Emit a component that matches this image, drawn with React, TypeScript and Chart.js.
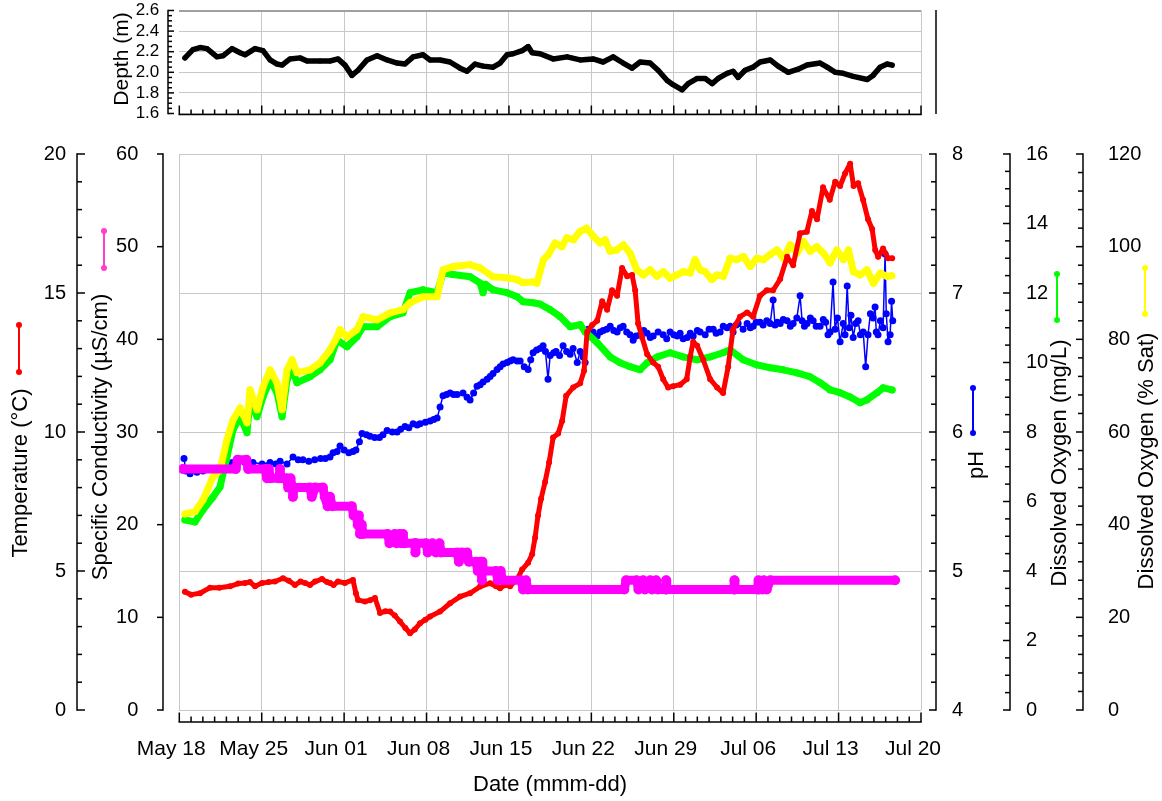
import React, { useEffect, useRef } from "react";
import { Chart, registerables } from "chart.js";

Chart.register(...registerables);

// ---------- DATA ----------
const xTickLabels = ["May 18", "May 25", "Jun 01", "Jun 08", "Jun 15", "Jun 22", "Jun 29", "Jul 06", "Jul 13", "Jul 20"];

// days since May 18 00:00
const depthDays = [0.48, 1.16, 1.76, 2.35, 3.2, 3.71, 4.48, 5.16, 5.58, 6.43, 7.11, 7.71, 8.3, 8.73, 9.4, 10.25, 10.85, 11.95, 12.8, 13.48, 14.07, 14.66, 15.18, 15.95, 16.8, 17.65, 18.5, 19.17, 19.86, 20.7, 21.3, 22.15, 22.99, 23.85, 24.44, 25.12, 25.8, 26.65, 27.25, 27.84, 28.35, 29.12, 29.63, 29.97, 30.64, 31.75, 32.94, 34.05, 35.15, 36.0, 36.85, 37.7, 38.46, 39.14, 39.99, 40.67, 41.44, 41.94, 42.71, 43.22, 43.99, 44.67, 45.26, 45.77, 46.53, 47.04, 47.47, 48.06, 48.74, 49.33, 50.19, 50.86, 51.72, 52.56, 53.32, 54.43, 55.03, 55.71, 56.39, 57.24, 58.43, 58.93, 59.52, 60.12, 60.55];
const depthVals = [2.14, 2.22, 2.24, 2.23, 2.15, 2.16, 2.23, 2.19, 2.17, 2.23, 2.21, 2.12, 2.08, 2.07, 2.13, 2.14, 2.11, 2.11, 2.11, 2.13, 2.07, 1.97, 2.02, 2.12, 2.16, 2.12, 2.09, 2.08, 2.15, 2.17, 2.12, 2.12, 2.1, 2.04, 2.01, 2.08, 2.06, 2.05, 2.09, 2.17, 2.18, 2.21, 2.25, 2.19, 2.18, 2.13, 2.15, 2.12, 2.13, 2.1, 2.15, 2.09, 2.04, 2.1, 2.09, 2.02, 1.92, 1.88, 1.83, 1.89, 1.94, 1.94, 1.89, 1.94, 1.99, 2.01, 1.95, 2.02, 2.05, 2.1, 2.12, 2.06, 2.0, 2.03, 2.07, 2.09, 2.05, 2.0, 1.99, 1.96, 1.93, 1.97, 2.05, 2.08, 2.07];

const tempDays = [0.48, 1.0, 1.76, 2.61, 3.4, 4.31, 5.0, 5.58, 6.0, 6.43, 7.03, 7.6, 8.13, 8.81, 9.3, 9.82, 10.3, 10.68, 11.1, 11.53, 12.12, 12.55, 12.8, 13.1, 13.48, 14.07, 14.75, 15.0, 15.18, 15.77, 16.2, 16.62, 17.05, 17.5, 17.9, 18.3, 18.75, 19.2, 19.6, 20.0, 20.45, 20.9, 21.3, 22.15, 23.0, 23.85, 24.7, 25.55, 26.4, 26.9, 27.25, 27.7, 28.1, 28.69, 29.12, 29.63, 29.97, 30.22, 30.47, 30.73, 31.07, 31.41, 31.75, 32.18, 32.52, 32.86, 33.45, 34.05, 34.38, 34.64, 35.07, 35.49, 35.92, 36.34, 36.76, 37.19, 37.61, 38.04, 38.46, 38.72, 38.97, 39.31, 39.74, 40.25, 40.67, 41.1, 41.52, 41.94, 42.54, 43.1, 43.39, 43.65, 43.99, 44.5, 45.09, 45.68, 46.19, 46.62, 47.04, 47.63, 48.23, 48.74, 49.32, 49.9, 50.44, 51.04, 51.63, 52.14, 52.73, 53.3, 53.74, 54.17, 54.68, 55.25, 55.71, 56.13, 56.55, 56.98, 57.27, 57.66, 58.08, 58.5, 58.85, 59.11, 59.36, 59.78, 60.2, 60.55];
const tempVals = [4.25, 4.15, 4.2, 4.4, 4.4, 4.45, 4.55, 4.57, 4.6, 4.45, 4.57, 4.6, 4.62, 4.74, 4.65, 4.5, 4.62, 4.57, 4.5, 4.62, 4.71, 4.6, 4.57, 4.5, 4.62, 4.57, 4.68, 4.2, 3.96, 3.9, 3.95, 4.03, 3.49, 3.55, 3.54, 3.4, 3.18, 2.95, 2.76, 2.9, 3.12, 3.25, 3.36, 3.54, 3.84, 4.08, 4.2, 4.44, 4.56, 4.45, 4.38, 4.5, 4.45, 4.7, 5.05, 5.3, 5.6, 6.2, 7.0, 7.6, 8.2, 8.9, 9.8, 9.95, 10.4, 11.3, 11.6, 11.75, 12.2, 13.6, 13.85, 14.0, 14.7, 14.4, 15.1, 14.9, 15.9, 15.6, 15.65, 15.1, 13.9, 13.4, 12.8, 12.5, 12.35, 11.9, 11.6, 11.65, 11.7, 11.9, 12.7, 13.25, 13.1, 12.6, 11.9, 11.6, 11.4, 12.35, 13.7, 14.15, 14.3, 14.15, 14.9, 15.1, 15.1, 15.5, 16.3, 16.0, 17.15, 17.2, 17.95, 17.65, 18.8, 18.35, 19.0, 18.85, 19.3, 19.65, 18.85, 18.95, 18.35, 17.65, 17.3, 16.55, 16.3, 16.6, 16.25, 16.25];

const condDays = [0.3, 4.8, 4.95, 5.7, 5.85, 7.3, 7.45, 7.6, 7.75, 8.45, 8.55, 8.65, 9.1, 9.25, 9.45, 9.6, 9.65, 9.75, 11.1, 11.25, 11.55, 12.2, 12.35, 12.6, 12.8, 13.0, 14.65, 14.8, 15.05, 15.15, 15.25, 15.35, 15.5, 15.6, 17.7, 17.85, 18.3, 18.45, 18.7, 18.85, 19.0, 19.1, 20.0, 20.05, 20.1, 20.95, 21.1, 21.5, 21.8, 22.1, 22.25, 23.6, 23.75, 24.0, 24.45, 24.6, 25.2, 25.35, 25.55, 25.7, 25.75, 25.85, 26.9, 27.05, 27.3, 27.45, 29.05, 29.2, 29.45, 29.6, 37.8, 37.95, 38.85, 39.0, 39.4, 39.55, 40.0, 40.15, 40.5, 40.65, 41.3, 41.35, 41.4, 47.1, 47.15, 47.2, 49.1, 49.2, 49.25, 49.55, 49.65, 49.9, 50.2, 60.8];
const condVals = [26, 26, 27, 27, 26, 26, 25, 26, 25, 25, 26, 25, 25, 24, 25, 24, 23, 24, 24, 23, 24, 24, 23, 22, 23, 22, 22, 21, 21, 20, 21, 19, 20, 19, 19, 18, 19, 18, 19, 18, 19, 18, 18, 17, 18, 18, 17, 18, 17, 18, 17, 17, 16, 17, 17, 16, 16, 15, 16, 14, 16, 15, 15, 14, 15, 14, 14, 13, 14, 13, 13, 14, 14, 13, 14, 13, 14, 13, 14, 13, 13, 14, 13, 13, 14, 13, 13, 14, 13, 13, 14, 13, 14, 14];

const phDays = [0.4, 0.55, 0.91, 1.5, 2.01, 2.6, 3.2, 3.9, 4.5, 4.9, 5.58, 6.26, 7.03, 7.71, 8.2, 8.56, 9.15, 9.66, 10.1, 10.5, 11.0, 11.5, 12.0, 12.4, 12.8, 13.06, 13.4, 13.65, 14.0, 14.4, 14.75, 15.0, 15.3, 15.52, 15.9, 16.2, 16.6, 17.0, 17.3, 17.65, 18.1, 18.5, 18.8, 19.17, 19.5, 19.86, 20.2, 20.45, 20.9, 21.3, 21.6, 21.9, 22.15, 22.4, 22.7, 23.0, 23.3, 23.6, 24.1, 24.44, 24.7, 25.0, 25.29, 25.55, 25.8, 26.14, 26.4, 26.65, 26.99, 27.25, 27.5, 27.84, 28.1, 28.35, 28.7, 28.95, 29.3, 29.63, 29.85, 30.05, 30.35, 30.64, 30.9, 31.1, 31.32, 31.5, 31.8, 32.0, 32.3, 32.6, 32.9, 33.2, 33.45, 33.8, 34.05, 34.3, 34.47, 34.73, 35.15, 35.49, 35.75, 36.0, 36.3, 36.6, 36.9, 37.19, 37.45, 37.7, 38.0, 38.29, 38.55, 38.8, 39.14, 39.45, 39.74, 40.0, 40.25, 40.67, 41.1, 41.4, 41.69, 42.0, 42.29, 42.54, 42.8, 43.14, 43.4, 43.65, 44.0, 44.24, 44.67, 45.0, 45.35, 45.6, 45.94, 46.2, 46.53, 46.79, 47.04, 47.3, 47.47, 47.89, 48.23, 48.5, 48.74, 49.0, 49.33, 49.59, 49.9, 50.19, 50.44, 50.6, 50.8, 51.04, 51.3, 51.63, 51.9, 52.14, 52.45, 52.73, 52.9, 53.1, 53.32, 53.6, 53.84, 54.1, 54.43, 54.7, 54.9, 55.1, 55.28, 55.53, 55.7, 55.9, 56.13, 56.39, 56.55, 56.73, 56.9, 57.05, 57.24, 57.45, 57.66, 57.85, 58.09, 58.3, 58.5, 58.7, 58.93, 59.1, 59.2, 59.35, 59.55, 59.78, 59.95, 60.05, 60.2, 60.38, 60.5, 60.6];
const phVals = [5.81, 5.72, 5.7, 5.71, 5.72, 5.73, 5.74, 5.76, 5.78, 5.79, 5.78, 5.78, 5.77, 5.78, 5.77, 5.79, 5.77, 5.82, 5.8, 5.8, 5.79, 5.8, 5.81, 5.81, 5.82, 5.85, 5.86, 5.9, 5.87, 5.85, 5.86, 5.87, 5.93, 5.99, 5.98, 5.97, 5.96, 5.96, 5.98, 6.01, 6.0, 6.0, 6.02, 6.04, 6.03, 6.06, 6.05, 6.06, 6.07, 6.08, 6.09, 6.1, 6.18, 6.26, 6.27, 6.28, 6.27, 6.27, 6.28, 6.25, 6.23, 6.28, 6.33, 6.34, 6.36, 6.38, 6.4, 6.42, 6.45, 6.47, 6.49, 6.5, 6.51, 6.52, 6.51, 6.51, 6.47, 6.45, 6.52, 6.57, 6.59, 6.6, 6.62, 6.58, 6.38, 6.55, 6.57, 6.58, 6.55, 6.62, 6.58, 6.56, 6.6, 6.5, 6.58, 6.54, 6.5, 6.74, 6.72, 6.69, 6.72, 6.73, 6.74, 6.76, 6.73, 6.72, 6.75, 6.76, 6.72, 6.7, 6.66, 6.69, 6.7, 6.73, 6.71, 6.68, 6.69, 6.72, 6.7, 6.67, 6.72, 6.7, 6.69, 6.71, 6.67, 6.68, 6.71, 6.69, 6.73, 6.72, 6.7, 6.74, 6.74, 6.71, 6.72, 6.76, 6.75, 6.76, 6.72, 6.77, 6.78, 6.74, 6.78, 6.75, 6.76, 6.79, 6.79, 6.77, 6.8, 6.78, 6.95, 6.77, 6.79, 6.78, 6.81, 6.8, 6.76, 6.78, 6.82, 6.98, 6.8, 6.76, 6.78, 6.82, 6.8, 6.76, 6.76, 6.81, 6.79, 6.7, 6.72, 7.08, 6.74, 6.82, 6.65, 6.78, 6.7, 7.05, 6.75, 6.84, 6.68, 6.78, 6.8, 6.7, 6.72, 6.47, 6.7, 6.85, 6.82, 6.9, 6.72, 6.7, 6.8, 6.75, 7.28, 6.85, 6.65, 6.7, 6.94, 6.8];

const doMgDays = [0.48, 1.33, 2.01, 2.86, 3.46, 4.05, 4.56, 5.16, 5.75, 6.01, 6.6, 7.11, 7.71, 8.3, 8.73, 9.15, 9.58, 10.0, 11.1, 11.95, 12.8, 13.4, 14.24, 15.09, 15.61, 16.8, 17.9, 19.0, 19.6, 20.7, 21.9, 22.4, 23.25, 24.7, 25.55, 25.8, 26.0, 26.65, 27.84, 28.69, 29.21, 30.05, 30.64, 31.5, 32.34, 33.2, 34.05, 34.47, 35.49, 36.6, 37.44, 38.29, 39.14, 39.74, 40.59, 41.69, 42.8, 43.99, 45.09, 46.19, 46.79, 47.89, 49.08, 50.19, 51.29, 52.48, 53.58, 54.43, 55.28, 56.13, 56.98, 57.83, 58.43, 59.27, 59.78, 60.55];
const doMgVals = [5.47, 5.41, 5.76, 6.13, 6.42, 7.28, 8.06, 8.44, 7.98, 8.93, 8.44, 9.01, 9.5, 9.13, 8.44, 9.5, 9.79, 9.42, 9.59, 9.79, 10.08, 10.65, 10.45, 10.74, 11.03, 11.03, 11.32, 11.43, 12.01, 12.09, 12.01, 12.58, 12.53, 12.47, 12.29, 12.01, 12.25, 12.09, 12.01, 11.89, 11.75, 11.72, 11.68, 11.52, 11.32, 11.03, 11.09, 10.88, 10.57, 10.16, 9.99, 9.88, 9.79, 9.99, 10.16, 10.28, 10.16, 10.08, 10.16, 10.28, 10.37, 10.08, 9.93, 9.85, 9.79, 9.7, 9.59, 9.42, 9.21, 9.13, 9.01, 8.84, 8.93, 9.13, 9.27, 9.21];

const doPctDays = [0.48, 1.33, 2.01, 2.86, 3.46, 4.05, 4.56, 5.16, 5.75, 6.01, 6.6, 7.11, 7.71, 8.3, 8.73, 9.15, 9.58, 10.0, 11.1, 11.95, 12.8, 13.4, 13.65, 14.24, 15.09, 15.61, 16.8, 17.9, 19.0, 19.6, 20.7, 21.9, 22.4, 23.25, 24.7, 25.55, 26.65, 27.84, 28.69, 29.21, 30.05, 30.37, 30.93, 31.35, 31.92, 32.49, 32.91, 33.48, 34.04, 34.61, 35.18, 35.74, 36.17, 36.59, 37.16, 37.73, 38.29, 38.86, 39.42, 39.99, 40.56, 41.12, 41.69, 42.26, 42.82, 43.39, 43.81, 44.24, 44.67, 45.23, 45.66, 46.22, 46.79, 47.36, 47.92, 48.49, 49.06, 49.62, 50.19, 50.76, 51.32, 51.89, 52.46, 53.02, 53.59, 54.15, 54.72, 55.28, 55.85, 56.41, 56.84, 57.26, 57.83, 58.4, 58.96, 59.53, 60.1, 60.52];
const doPctVals = [42.3, 42.8, 45.3, 50.3, 51.8, 58.3, 62.6, 65.2, 62.0, 69.1, 64.8, 69.7, 73.4, 70.6, 64.8, 73.4, 75.6, 72.8, 73.4, 74.9, 77.7, 80.5, 82.1, 80.5, 82.1, 84.9, 84.2, 85.7, 86.4, 87.9, 89.2, 89.2, 95.0, 95.7, 96.1, 95.4, 93.5, 93.3, 92.9, 92.2, 92.4, 92.1, 97.2, 98.3, 100.8, 100.0, 101.9, 101.5, 103.3, 104.0, 102.2, 100.8, 101.5, 99.0, 99.3, 100.4, 98.6, 95.0, 93.9, 95.0, 93.6, 94.6, 93.2, 93.9, 94.6, 94.3, 97.2, 95.0, 94.6, 92.9, 93.9, 93.6, 97.5, 97.2, 97.9, 95.7, 97.5, 97.2, 98.3, 99.3, 97.5, 100.4, 98.6, 101.1, 99.0, 100.0, 98.6, 96.5, 99.3, 97.2, 99.3, 94.6, 93.9, 95.0, 92.1, 94.3, 93.6, 93.7];

// ---------- STYLE ----------
const FONT = '"Liberation Sans", Arial, sans-serif';
const GRID = "#c8c8c8";

const toXY = (xs: number[], ys: number[]) => xs.map((x, i) => ({ x, y: ys[i] }));

function line(c: CanvasRenderingContext2D, x1: number, y1: number, x2: number, y2: number) {
  c.beginPath();
  c.moveTo(x1, y1);
  c.lineTo(x2, y2);
  c.stroke();
}

function drawVAxis(c: CanvasRenderingContext2D, scale: any, x: number, min: number, max: number, minorStep: number, majorStep: number, dir: number, majLen: number, minLen: number) {
  const yt = scale.getPixelForValue(max);
  const yb = scale.getPixelForValue(min);
  line(c, x, yt - 0.75, x, yb + 0.75);
  const n = Math.round((max - min) / minorStep);
  for (let i = 0; i <= n; i++) {
    const v = min + i * minorStep;
    const q = v / majorStep;
    const isMajor = Math.abs(q - Math.round(q)) < 1e-6;
    const y = scale.getPixelForValue(v);
    line(c, x, y, x + dir * (isMajor ? majLen : minLen), y);
  }
}

function drawXAxis(c: CanvasRenderingContext2D, scale: any, y: number, majLen: number, minLen: number) {
  line(c, scale.getPixelForValue(0) - 0.75, y, scale.getPixelForValue(63) + 0.75, y);
  for (let d = 0; d <= 63; d++) {
    const x = scale.getPixelForValue(d);
    line(c, x, y, x, y - (d % 7 === 0 ? majLen : minLen));
  }
}

function vTitle(c: CanvasRenderingContext2D, text: string, x: number, y: number, font: string) {
  c.save();
  c.translate(x, y);
  c.rotate(-Math.PI / 2);
  c.font = font;
  c.fillStyle = "#000";
  c.textAlign = "center";
  c.textBaseline = "middle";
  c.fillText(text, 0, 0);
  c.restore();
}

function marker(c: CanvasRenderingContext2D, color: string, x: number, y1: number, y2: number) {
  c.save();
  c.strokeStyle = color;
  c.fillStyle = color;
  c.lineWidth = 2;
  line(c, x, y1, x, y2);
  for (const y of [y1, y2]) {
    c.beginPath();
    c.arc(x, y, 3, 0, Math.PI * 2);
    c.fill();
  }
  c.restore();
}

const noPad = (sc: any) => {
  sc.paddingTop = 0;
  sc.paddingBottom = 0;
  sc.paddingLeft = 0;
  sc.paddingRight = 0;
};

const mainDecor = {
  id: "mainDecor",
  afterDraw(chart: any) {
    const c = chart.ctx as CanvasRenderingContext2D;
    const s = chart.scales;
    const ca = chart.chartArea;
    c.save();
    c.strokeStyle = "#000";
    c.lineWidth = 1.5;
    drawVAxis(c, s.yTemp, 77, 0, 20, 1, 5, 1, 8, 5);
    drawVAxis(c, s.yCond, 163, 0, 60, 10, 10, -1, 6, 6);
    drawVAxis(c, s.yPh, 936, 4, 8, 0.2, 1, -1, 7, 5);
    drawVAxis(c, s.yDoMg, 1010, 0, 16, 0.5, 2, -1, 7, 5);
    drawVAxis(c, s.yDoPct, 1083, 0, 120, 4, 20, -1, 7, 5);
    drawXAxis(c, s.x, ca.bottom + 12, 9.5, 5.5);
    c.restore();

    const tf = `22px ${FONT}`;
    vTitle(c, "Temperature (°C)", 21, 343, tf);
    vTitle(c, "Specific Conductivity (µS/cm)", 101, 307, tf);
    vTitle(c, "pH", 977, 335, tf);
    vTitle(c, "Dissolved Oxygen (mg/L)", 1060, 333, tf);
    vTitle(c, "Dissolved Oxygen (% Sat)", 1147, 331, tf);

    c.save();
    c.font = `22px ${FONT}`;
    c.fillStyle = "#000";
    c.textAlign = "center";
    c.textBaseline = "middle";
    c.fillText("Date (mmm-dd)", 550, 655);
    c.restore();

    marker(c, "#ff0000", 19, 195, 242);
    marker(c, "#ff3fcf", 104, 101, 138);
    marker(c, "#0000ff", 973, 258, 303);
    marker(c, "#00ff00", 1057, 144, 190);
    marker(c, "#ffff00", 1145, 138, 184);
  },
};

const topDecor = {
  id: "topDecor",
  afterDraw(chart: any) {
    const c = chart.ctx as CanvasRenderingContext2D;
    const s = chart.scales;
    const ca = chart.chartArea;
    c.save();
    c.strokeStyle = "#000";
    c.lineWidth = 1.5;
    drawVAxis(c, s.y, 168, 1.6, 2.6, 0.05, 0.2, 1, 6, 4);
    drawXAxis(c, s.x, ca.bottom + 1, 9, 5);
    line(c, 936, 10, 936, 114);
    c.restore();
    vTitle(c, "Depth (m)", 122, 59, `21px ${FONT}`);
  },
};

function baseDataset(data: any[], color: string, axis: string, bw: number, pr: number) {
  return {
    data,
    yAxisID: axis,
    borderColor: color,
    backgroundColor: color,
    pointBackgroundColor: color,
    pointBorderWidth: 0,
    borderWidth: bw,
    pointRadius: pr,
    pointHoverRadius: pr,
    tension: 0,
    borderJoinStyle: "round" as const,
    borderCapStyle: "round" as const,
  };
}

export default function App() {
  const topRef = useRef<HTMLCanvasElement>(null);
  const mainRef = useRef<HTMLCanvasElement>(null);

  useEffect(() => {
    const tickFont = { family: FONT, size: 20 };
    const topChart = new Chart(topRef.current!, {
      type: "line",
      data: {
        datasets: [baseDataset(toXY(depthDays, depthVals), "#000000", "y", 5.5, 2.5)],
      },
      options: {
        responsive: false,
        animation: false,
        devicePixelRatio: 1,
        layout: { padding: { top: 10.5, right: 241, left: 0, bottom: 0 } },
        plugins: { legend: { display: false }, tooltip: { enabled: false } },
        scales: {
          x: {
            type: "linear",
            min: 0,
            max: 63,
            afterFit: (sc: any) => { sc.height = 16.5; noPad(sc); },
            ticks: { display: false, stepSize: 7 },
            grid: { color: (ctx: any) => (ctx.tick && ctx.tick.value === 0 ? "rgba(0,0,0,0)" : GRID), drawTicks: false },
            border: { display: false },
          },
          y: {
            type: "linear",
            position: "left",
            min: 1.6,
            max: 2.6,
            afterFit: (sc: any) => { sc.width = 179.3; noPad(sc); },
            ticks: { stepSize: 0.2, autoSkip: false, padding: 20, color: "#000", font: { family: FONT, size: 17 }, callback: (v: any) => Number(v).toFixed(1) },
            grid: {
              color: (ctx: any) => (ctx.tick && Math.abs(ctx.tick.value - 2.6) < 1e-6 ? "#a0a0a0" : GRID),
              lineWidth: (ctx: any) => (ctx.tick && Math.abs(ctx.tick.value - 2.6) < 1e-6 ? 2 : 1),
              drawTicks: false,
            },
            border: { display: false },
          },
        },
      },
      plugins: [topDecor],
    } as any);

    const mainChart = new Chart(mainRef.current!, {
      type: "line",
      data: {
        datasets: [
          baseDataset(toXY(condDays, condVals), "#ff00ff", "yCond", 9, 5),
          baseDataset(toXY(tempDays, tempVals), "#ff0000", "yTemp", 5, 3),
          baseDataset(toXY(doPctDays, doPctVals), "#ffff00", "yDoPct", 7, 3.5),
          baseDataset(toXY(doMgDays, doMgVals), "#00ff00", "yDoMg", 7, 3.5),
          baseDataset(toXY(phDays, phVals), "#0000ff", "yPh", 1.5, 3.5),
        ],
      },
      options: {
        responsive: false,
        animation: false,
        devicePixelRatio: 1,
        layout: { padding: { top: 24, right: 0, left: 0, bottom: 0 } },
        plugins: { legend: { display: false }, tooltip: { enabled: false } },
        scales: {
          x: {
            type: "linear",
            position: "bottom",
            min: 0,
            max: 63,
            afterFit: (sc: any) => { sc.height = 91; noPad(sc); },
            ticks: {
              stepSize: 7,
              autoSkip: false,
              maxRotation: 0,
              padding: 27,
              labelOffset: -8,
              color: "#000",
              font: { family: FONT, size: 21 },
              callback: (v: any) => xTickLabels[Math.round(Number(v) / 7)] ?? "",
            },
            grid: { color: GRID, lineWidth: 1, drawTicks: false },
            border: { display: false },
          },
          yCond: {
            type: "linear",
            position: "left",
            min: 0,
            max: 60,
            afterFit: (sc: any) => { sc.width = 89.3; noPad(sc); },
            ticks: { stepSize: 10, autoSkip: false, padding: 33, color: "#000", font: tickFont },
            grid: { display: false },
            border: { display: false },
          },
          yTemp: {
            type: "linear",
            position: "left",
            min: 0,
            max: 20,
            afterFit: (sc: any) => { sc.width = 90; noPad(sc); },
            ticks: { stepSize: 5, autoSkip: false, padding: 24, color: "#000", font: tickFont },
            grid: { color: GRID, lineWidth: 1, drawTicks: false },
            border: { display: false },
          },
          yPh: {
            type: "linear",
            position: "right",
            min: 4,
            max: 8,
            afterFit: (sc: any) => { sc.width = 80; noPad(sc); },
            ticks: { stepSize: 1, autoSkip: false, padding: 23, color: "#000", font: tickFont },
            grid: { display: false },
            border: { display: false },
          },
          yDoMg: {
            type: "linear",
            position: "right",
            min: 0,
            max: 16,
            afterFit: (sc: any) => { sc.width = 75; noPad(sc); },
            ticks: { stepSize: 2, autoSkip: false, padding: 17, color: "#000", font: tickFont },
            grid: { display: false },
            border: { display: false },
          },
          yDoPct: {
            type: "linear",
            position: "right",
            min: 0,
            max: 120,
            afterFit: (sc: any) => { sc.width = 86; noPad(sc); },
            ticks: { stepSize: 20, autoSkip: false, padding: 24, color: "#000", font: tickFont },
            grid: { display: false },
            border: { display: false },
          },
        },
      },
      plugins: [mainDecor],
    } as any);

    return () => {
      topChart.destroy();
      mainChart.destroy();
    };
  }, []);

  return (
    <div style={{ position: "absolute", left: 0, top: 0, width: 1162, height: 801, background: "#ffffff" }}>
      <canvas ref={topRef} width={1162} height={130} style={{ position: "absolute", left: 0, top: 0, width: 1162, height: 130 }} />
      <canvas ref={mainRef} width={1162} height={671} style={{ position: "absolute", left: 0, top: 130, width: 1162, height: 671 }} />
    </div>
  );
}
